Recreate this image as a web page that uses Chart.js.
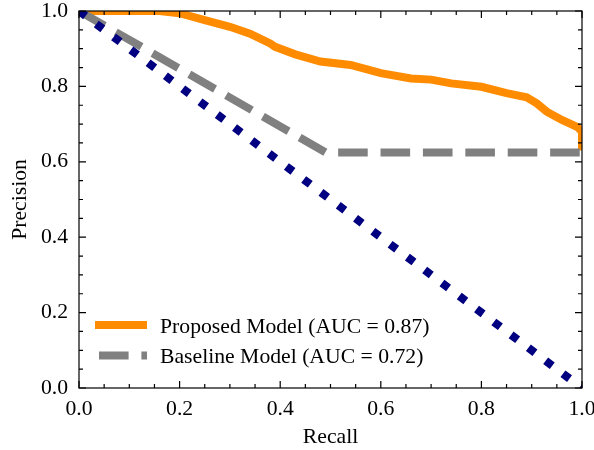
<!DOCTYPE html>
<html>
<head>
<meta charset="utf-8">
<script src="https://cdn.jsdelivr.net/npm/chart.js@4"></script>
<style>
  body { margin: 0; background: #fff; }
  canvas { display: block; }
</style>
</head>
<body>
<canvas id="prChart" width="594" height="450"></canvas>
<script>
// Proposed model PR curve
const proposedRecall = [0, 0.16, 0.2, 0.25, 0.3, 0.34, 0.38, 0.39, 0.43, 0.48, 0.54, 0.6, 0.66, 0.7, 0.74, 0.8, 0.85, 0.89, 0.91, 0.93, 0.96, 0.99, 1.0, 1.0];
const proposedPrecision = [1, 1, 0.994, 0.976, 0.958, 0.94, 0.914, 0.905, 0.885, 0.866, 0.857, 0.835, 0.821, 0.818, 0.808, 0.799, 0.782, 0.771, 0.755, 0.733, 0.711, 0.693, 0.68, 0.63];

// Baseline model PR curve
const baselineRecall = [0, 0.49, 1.0];
const baselinePrecision = [1, 0.625, 0.625];

// Diagonal reference line
const diagRecall = [0, 1];
const diagPrecision = [1, 0];

const tickValues = [0, 0.2, 0.4, 0.6, 0.8, 1.0];
const legendLabels = ["Proposed Model (AUC = 0.87)", "Baseline Model (AUC = 0.72)"];

const FONT = "'Liberation Serif', 'Times New Roman', serif";
const FSIZE = 21.7;

function toPoints(xs, ys) {
  return xs.map((x, i) => ({ x: x, y: ys[i] }));
}

// white background
const bgPlugin = {
  id: "bg",
  beforeDraw(chart) {
    const ctx = chart.ctx;
    ctx.save();
    ctx.fillStyle = "#fff";
    ctx.fillRect(0, 0, chart.width, chart.height);
    ctx.restore();
  }
};

// frame + inward major/minor ticks on all four sides
const framePlugin = {
  id: "frame",
  afterDraw(chart) {
    const { ctx, chartArea: a, scales } = chart;
    ctx.save();
    ctx.strokeStyle = "#000";
    ctx.lineWidth = 1.2;
    for (let i = 0; i <= 20; i++) {
      const v = i * 0.05;
      const len = i % 4 === 0 ? 7 : 4;
      const px = scales.x.getPixelForValue(v);
      const py = scales.y.getPixelForValue(v);
      ctx.beginPath();
      ctx.moveTo(px, a.bottom); ctx.lineTo(px, a.bottom - len);
      ctx.moveTo(px, a.top); ctx.lineTo(px, a.top + len);
      ctx.moveTo(a.left, py); ctx.lineTo(a.left + len, py);
      ctx.moveTo(a.right, py); ctx.lineTo(a.right - len, py);
      ctx.stroke();
    }
    ctx.strokeRect(a.left, a.top, a.right - a.left, a.bottom - a.top);
    ctx.restore();
  }
};

// matplotlib-like legend in lower left, no frame
const legendPlugin = {
  id: "mplLegend",
  afterDraw(chart) {
    const ctx = chart.ctx;
    const a = chart.chartArea;
    const sets = [chart.data.datasets[0], chart.data.datasets[1]];
    ctx.save();
    ctx.font = FSIZE + "px " + FONT;
    ctx.fillStyle = "#000";
    ctx.textBaseline = "alphabetic";
    sets.forEach((ds, i) => {
      const y = a.bottom - 63 + i * 30.5;
      ctx.save();
      ctx.strokeStyle = ds.borderColor;
      ctx.lineWidth = ds.borderWidth;
      ctx.lineCap = "butt";
      ctx.setLineDash(ds.borderDash || []);
      ctx.beginPath();
      const x0 = ds.borderDash ? a.left + 20 : a.left + 16;
      ctx.moveTo(x0, y);
      ctx.lineTo(a.left + 68, y);
      ctx.stroke();
      ctx.restore();
      ctx.fillText(legendLabels[i], a.left + 81, y + 7.5);
    });
    ctx.restore();
  }
};

const ctx = document.getElementById("prChart").getContext("2d");
new Chart(ctx, {
  type: "line",
  data: {
    datasets: [
      {
        label: legendLabels[0],
        data: toPoints(proposedRecall, proposedPrecision),
        borderColor: "#ff8c00",
        borderWidth: 8,
        pointRadius: 0,
        tension: 0,
        clip: 0,
        order: 3
      },
      {
        label: legendLabels[1],
        data: toPoints(baselineRecall, baselinePrecision),
        borderColor: "#808080",
        borderWidth: 8,
        borderDash: [29.6, 12.8],
        borderCapStyle: "butt",
        pointRadius: 0,
        tension: 0,
        clip: 0,
        order: 2
      },
      {
        label: "diag",
        data: toPoints(diagRecall, diagPrecision),
        borderColor: "#000080",
        borderWidth: 8.2,
        borderDash: [8.2, 13.4],
        borderCapStyle: "butt",
        pointRadius: 0,
        tension: 0,
        clip: 0,
        order: 1
      }
    ]
  },
  options: {
    responsive: false,
    animation: false,
    layout: { padding: { left: 0, right: 12, top: 11, bottom: 0 } },
    plugins: {
      legend: { display: false },
      tooltip: { enabled: false }
    },
    scales: {
      x: {
        type: "linear",
        min: 0,
        max: 1,
        afterBuildTicks(scale) { scale.ticks = tickValues.map(v => ({ value: v })); },
        afterFit(scale) { scale.height = 62; scale.paddingLeft = 0; scale.paddingRight = 0; },
        grid: { display: false, drawTicks: false },
        border: { display: false },
        ticks: {
          padding: 8,
          color: "#000",
          font: { family: FONT, size: FSIZE },
          maxRotation: 0,
          callback: v => v.toFixed(1)
        },
        title: {
          display: true,
          text: "Recall",
          color: "#000",
          font: { family: FONT, size: FSIZE },
          padding: { top: 0, bottom: 0 }
        }
      },
      y: {
        type: "linear",
        min: 0,
        max: 1,
        afterBuildTicks(scale) { scale.ticks = tickValues.map(v => ({ value: v })); },
        afterFit(scale) { scale.width = 79; scale.paddingTop = 0; scale.paddingBottom = 0; },
        grid: { display: false, drawTicks: false },
        border: { display: false },
        ticks: {
          padding: 11,
          color: "#000",
          font: { family: FONT, size: FSIZE },
          callback: v => v.toFixed(1)
        },
        title: {
          display: true,
          text: "Precision",
          color: "#000",
          font: { family: FONT, size: FSIZE },
          padding: { top: 7, bottom: 0 }
        }
      }
    }
  },
  plugins: [bgPlugin, framePlugin, legendPlugin]
});
</script>
</body>
</html>
